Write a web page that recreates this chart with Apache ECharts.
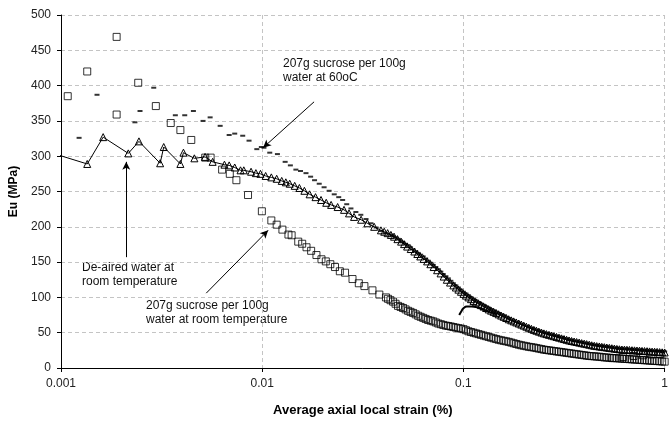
<!DOCTYPE html>
<html>
<head>
<meta charset="utf-8">
<script src="https://cdn.jsdelivr.net/npm/echarts@6/dist/echarts.min.js"></script>
<style>
  html, body { margin: 0; padding: 0; background: #fff; }
  #chart { width: 671px; height: 424px; }
</style>
</head>
<body>
<div id="chart"></div>
<script>
// x = average axial local strain (%), y = Eu (MPa)
const xTickLabels = ['0.001', '0.01', '0.1', '1'];

// 207g sucrose per 100g water at room temperature (open squares)
const sucroseRoom = [
  [0.00108, 385], [0.00135, 420], [0.00189, 469], [0.00189, 359], [0.00242, 404],
  [0.00296, 371], [0.00351, 347], [0.00392, 337], [0.00444, 323], [0.00521, 298],
  [0.00554, 298], [0.00632, 281], [0.0069, 275], [0.00744, 266], [0.0085, 245],
  [0.00996, 222], [0.0111, 209], [0.0118, 203], [0.0126, 196], [0.0135, 189],
  [0.0140, 188], [0.0151, 179], [0.0158, 176], [0.0166, 171], [0.0175, 166],
  [0.0186, 160], [0.0197, 154], [0.0207, 151], [0.0218, 147], [0.023, 143],
  [0.0243, 137], [0.0258, 135], [0.0281, 126], [0.0302, 120], [0.0322, 116],
  [0.0353, 110], [0.0382, 104],
  [0.0412, 100], [0.0422, 98], [0.0434, 96], [0.0447, 94], [0.046, 91], [0.0473, 88],
  [0.0487, 86.5], [0.0501, 85], [0.0516, 83], [0.0531, 81], [0.0546, 79.5], [0.0562, 78],
  [0.0579, 76], [0.0596, 74], [0.0613, 72.5], [0.0631, 71], [0.0649, 69.5], [0.0668, 68],
  [0.0688, 67], [0.0708, 66], [0.0729, 64.5], [0.075, 63], [0.0772, 62], [0.0794, 61],
  [0.0818, 60], [0.0841, 59.5], [0.0866, 58.8], [0.0891, 58], [0.0917, 57.2], [0.0944, 56.5],
  [0.0972, 55.8], [0.1, 55], [0.1029, 53.5], [0.1059, 52], [0.109, 51], [0.1122, 50],
  [0.1155, 49], [0.1189, 48], [0.1223, 47], [0.1259, 46], [0.1296, 45], [0.1334, 44],
  [0.1372, 43], [0.1413, 42], [0.1454, 41], [0.1496, 40], [0.154, 39.2], [0.1585, 38.5],
  [0.1631, 37.8], [0.1679, 37], [0.1728, 36], [0.1778, 35], [0.183, 34], [0.1884, 33],
  [0.1939, 32.2], [0.1995, 31.5], [0.2054, 30.8], [0.2113, 30], [0.2175, 29.5], [0.2239, 29],
  [0.2304, 28.2], [0.2371, 27.5], [0.2441, 26.8], [0.2512, 26], [0.2585, 25.5], [0.2661, 25],
  [0.2738, 24.5], [0.2818, 24], [0.2901, 23.5], [0.2985, 23], [0.3073, 22.5], [0.3162, 22],
  [0.3255, 21.5], [0.335, 21], [0.3447, 20.5], [0.3548, 20], [0.3652, 19.5], [0.3758, 19],
  [0.3868, 18.5], [0.3981, 18], [0.4097, 17.5], [0.4217, 17], [0.434, 16.8], [0.4467, 16.5],
  [0.4597, 16.2], [0.4732, 16], [0.487, 15.5], [0.5012, 15], [0.5158, 14.8], [0.5309, 14.5],
  [0.5464, 14.2], [0.5623, 14], [0.5788, 13.8], [0.5957, 13.5], [0.6131, 13.2], [0.631, 13],
  [0.6494, 12.8], [0.6683, 12.5], [0.6879, 12.2], [0.7079, 12], [0.7286, 11.8], [0.7499, 11.5],
  [0.7718, 11.2], [0.7943, 11], [0.8175, 10.8], [0.8414, 10.5], [0.866, 10.2], [0.8913, 10],
  [0.9173, 9.8], [0.9441, 9.5], [0.9716, 9.2], [1.0, 9],
  [0.55, 14], [0.62, 15.5], [0.7, 17], [0.78, 18], [0.86, 19], [0.95, 20]
];

// De-aired water at room temperature (open triangles, joined)
const deairedRoom = [
  [0.00089, 305], [0.00135, 289], [0.00162, 327], [0.00216, 304], [0.00244, 321],
  [0.00311, 290], [0.00324, 313], [0.00392, 289], [0.00406, 305], [0.0046, 297],
  [0.0052, 299], [0.00567, 292], [0.00649, 288], [0.00685, 287], [0.0073, 284],
  [0.0078, 280], [0.0081, 280], [0.0088, 278], [0.0093, 276], [0.0098, 275],
  [0.0104, 272], [0.0111, 270], [0.0118, 268], [0.0125, 265], [0.0131, 263],
  [0.0137, 261], [0.0145, 258], [0.0153, 255], [0.0162, 251], [0.0172, 246],
  [0.0184, 242], [0.0196, 238], [0.0208, 234], [0.022, 231], [0.0237, 228],
  [0.0255, 224], [0.027, 219], [0.0286, 214], [0.031, 210], [0.0333, 205],
  [0.036, 200], [0.0389, 195], [0.0404, 193], [0.042, 191], [0.0436, 188.5],
  [0.0452, 186], [0.047, 182.5], [0.049, 179], [0.0507, 175.5], [0.0525, 172],
  [0.0547, 168.5], [0.057, 165], [0.059, 161.5], [0.061, 158], [0.0634, 154.5],
  [0.066, 151], [0.0685, 147], [0.0711, 143], [0.074, 138.5], [0.077, 134],
  [0.0798, 129.5], [0.0827, 125], [0.0858, 121], [0.0891, 117], [0.0917, 114],
  [0.0944, 111], [0.0972, 108], [0.1, 105], [0.1029, 102.5], [0.1059, 100],
  [0.109, 97.5], [0.1122, 95], [0.1155, 93], [0.1189, 91], [0.1223, 89],
  [0.1259, 87], [0.1296, 85], [0.1334, 83], [0.1372, 81.2], [0.1413, 79.5],
  [0.1454, 77.8], [0.1496, 76], [0.154, 74.2], [0.1585, 72.5], [0.1631, 70.8],
  [0.1679, 69], [0.1728, 67.5], [0.1778, 66], [0.183, 64.5], [0.1884, 63],
  [0.1939, 61.5], [0.1995, 60], [0.2054, 58.5], [0.2113, 57], [0.2175, 55.5],
  [0.2239, 54], [0.2304, 52.8], [0.2371, 51.5], [0.2441, 50.2], [0.2512, 49],
  [0.2585, 48], [0.2661, 47], [0.2738, 46], [0.2818, 45], [0.2901, 44],
  [0.2985, 43], [0.3073, 42], [0.3162, 41], [0.3255, 40], [0.335, 39],
  [0.3447, 38.2], [0.3548, 37.5], [0.3652, 36.8], [0.3758, 36], [0.3868, 35.2],
  [0.3981, 34.5], [0.4097, 33.8], [0.4217, 33], [0.434, 32.2], [0.4467, 31.5],
  [0.4597, 31], [0.4732, 30.5], [0.487, 30], [0.5012, 29.5], [0.5158, 29],
  [0.5309, 28.5], [0.5464, 28], [0.5623, 27.5], [0.5788, 27], [0.5957, 26.5],
  [0.6131, 26.2], [0.631, 26], [0.6494, 25.8], [0.6683, 25.5], [0.6879, 25.2],
  [0.7079, 25], [0.7286, 24.8], [0.7499, 24.5], [0.7718, 24.2], [0.7943, 24],
  [0.8175, 23.8], [0.8414, 23.5], [0.866, 23.2], [0.8913, 23], [0.9173, 22.8],
  [0.9441, 22.5], [0.9716, 22.2], [1.0, 22]
];

// 207g sucrose per 100g water at 60oC (small dashes)
const sucrose60 = [
  [0.00123, 326], [0.00151, 387], [0.00233, 348], [0.00247, 364], [0.00289, 397],
  [0.0037, 358], [0.00412, 358], [0.00455, 364], [0.00508, 350], [0.00551, 355],
  [0.00618, 343], [0.00685, 330], [0.0073, 332], [0.0080, 329], [0.0086, 322],
  [0.0094, 310], [0.0099, 313], [0.0102, 312], [0.0109, 305], [0.0119, 303],
  [0.0130, 292], [0.0138, 287], [0.0147, 281], [0.0155, 279], [0.0165, 276],
  [0.0174, 271], [0.0182, 266], [0.0192, 261], [0.0203, 256], [0.0215, 251],
  [0.0228, 246], [0.0240, 242], [0.0251, 238], [0.0263, 232], [0.0276, 226],
  [0.0292, 221], [0.0309, 217], [0.0328, 211], [0.0347, 205], [0.0368, 199],
  [0.0389, 194], [0.0412, 191], [0.0434, 189], [0.0447, 187], [0.046, 185],
  [0.0473, 183], [0.0487, 180.5], [0.0501, 178], [0.0516, 176], [0.0531, 174],
  [0.0546, 171], [0.0562, 168], [0.0579, 165.5], [0.0596, 163], [0.0613, 160.5],
  [0.0631, 158], [0.0649, 155], [0.0668, 152], [0.0688, 149], [0.0708, 146],
  [0.0729, 143], [0.075, 140], [0.0772, 136.5], [0.0794, 133], [0.0818, 130],
  [0.0841, 127], [0.0866, 123.5], [0.0891, 120], [0.0917, 117], [0.0944, 114],
  [0.0972, 111], [0.1, 108], [0.1029, 105.5], [0.1059, 103], [0.109, 100.5],
  [0.1122, 98], [0.1155, 95.8], [0.1189, 93.5], [0.1223, 91.5], [0.1259, 89.5],
  [0.1296, 87.5], [0.1334, 85.5], [0.1372, 83.5], [0.1413, 81.5], [0.1454, 79.8],
  [0.1496, 78], [0.154, 76.2], [0.1585, 74.5], [0.1631, 72.5], [0.1679, 70.5],
  [0.1728, 68.8], [0.1778, 67], [0.183, 65.5], [0.1884, 64], [0.1939, 62.5],
  [0.1995, 61], [0.2054, 59.5], [0.2113, 58], [0.2175, 56.8], [0.2239, 55.5],
  [0.2304, 54.2], [0.2371, 53], [0.2441, 51.8], [0.2512, 50.5], [0.2585, 49.5],
  [0.2661, 48.5], [0.2738, 47.5], [0.2818, 46.5], [0.2901, 45.5], [0.2985, 44.5],
  [0.3073, 43.5], [0.3162, 42.5], [0.3255, 41.5], [0.335, 40.5], [0.3447, 39.8],
  [0.3548, 39], [0.3652, 38.2], [0.3758, 37.5], [0.3868, 36.8], [0.3981, 36],
  [0.4097, 35.2], [0.4217, 34.5], [0.434, 33.8], [0.4467, 33], [0.4597, 32.5],
  [0.4732, 32], [0.487, 31.5], [0.5012, 31], [0.5158, 30.5], [0.5309, 30],
  [0.5464, 29.5], [0.5623, 29], [0.5788, 28.5], [0.5957, 28], [0.6131, 27.8],
  [0.631, 27.5], [0.6494, 27.2], [0.6683, 27], [0.6879, 26.8], [0.7079, 26.5],
  [0.7286, 26.2], [0.7499, 26], [0.7718, 25.8], [0.7943, 25.5], [0.8175, 25.2],
  [0.8414, 25], [0.866, 24.8], [0.8913, 24.5], [0.9173, 24.2], [0.9441, 24],
  [0.9716, 23.8], [1.0, 23.5]
];

// reloading hook of the 60oC test near 0.1 %
const sucrose60Hook = [
  [0.0953, 75], [0.0975, 80], [0.1, 84.5], [0.104, 87], [0.11, 87],
  [0.1165, 86], [0.125, 83], [0.135, 79.5], [0.146, 76]
];

const FONT = 'Arial, "Liberation Sans", sans-serif';
const gridDash = { color: '#c4c4c4', type: [4, 3], width: 1 };

const chart = echarts.init(document.getElementById('chart'));

const arrow = (from, to) => [{ coord: from }, { coord: to }];

chart.setOption({
  animation: false,
  backgroundColor: '#fff',
  grid: { left: 61, right: 2, top: 15, bottom: 56 },
  xAxis: {
    type: 'log',
    logBase: 10,
    min: 0.001,
    max: 1,
    name: 'Average axial local strain (%)',
    nameLocation: 'middle',
    nameGap: 36,
    nameTextStyle: { color: '#000', fontSize: 13, fontWeight: 'bold', fontFamily: FONT },
    axisLine: { lineStyle: { color: '#000', width: 1 } },
    axisTick: { show: true, length: 4, lineStyle: { color: '#000' } },
    minorTick: { show: false },
    axisLabel: {
      color: '#222', fontSize: 12, fontFamily: FONT, margin: 10,
      formatter: (v, i) => xTickLabels[i]
    },
    splitLine: { show: true, lineStyle: gridDash }
  },
  yAxis: {
    type: 'value',
    min: 0,
    max: 500,
    interval: 50,
    name: 'Eu (MPa)',
    nameLocation: 'middle',
    nameGap: 40,
    nameTextStyle: { color: '#000', fontSize: 12, fontWeight: 'bold', fontFamily: FONT },
    axisLine: { show: true, lineStyle: { color: '#000', width: 1 } },
    axisTick: { show: true, length: 4, lineStyle: { color: '#000' } },
    axisLabel: { color: '#222', fontSize: 12, fontFamily: FONT, margin: 10 },
    splitLine: { show: true, lineStyle: gridDash }
  },
  series: [
    {
      name: '207g sucrose per 100g water at room temperature',
      type: 'scatter',
      data: sucroseRoom,
      symbol: 'rect',
      symbolSize: 7,
      // hollow markers: in the dense tail the outlines pile up into a dark band
      itemStyle: { color: 'transparent', borderColor: '#000', borderWidth: 1 },
      z: 2
    },
    {
      name: 'De-aired water at room temperature',
      type: 'line',
      data: deairedRoom,
      symbol: 'triangle',
      symbolSize: 7,
      showAllSymbol: true,
      lineStyle: { color: '#000', width: 1 },
      itemStyle: { color: 'transparent', borderColor: '#000', borderWidth: 1 },
      z: 3
    },
    {
      name: '207g sucrose per 100g water at 60oC',
      type: 'scatter',
      data: sucrose60,
      symbol: 'rect',
      symbolSize: [5, 2],
      itemStyle: { color: '#000' },
      z: 4
    },
    {
      name: '207g sucrose per 100g water at 60oC (hook)',
      type: 'line',
      data: sucrose60Hook,
      showSymbol: false,
      smooth: true,
      lineStyle: { color: '#000', width: 2 },
      z: 4,
      markLine: {
        silent: true,
        symbol: ['none', 'arrow'],
        symbolSize: [6, 8],
        label: { show: false },
        lineStyle: { color: '#000', width: 1, type: 'solid' },
        data: [
          arrow([0.0181, 377], [0.0101, 312]),
          arrow([0.00211, 157], [0.00211, 292]),
          arrow([0.00527, 106], [0.0107, 195])
        ]
      }
    }
  ],
  graphic: [
    {
      type: 'text', left: 283, top: 57,
      style: { text: '207g sucrose per 100g\nwater at 60oC', fill: '#111', font: '12px ' + FONT, lineHeight: 13.5 }
    },
    {
      type: 'text', left: 82, top: 261,
      style: { text: 'De-aired water at\nroom temperature', fill: '#111', font: '12px ' + FONT, lineHeight: 13.5 }
    },
    {
      type: 'text', left: 146, top: 299,
      style: { text: '207g sucrose per 100g\nwater at room temperature', fill: '#111', font: '12px ' + FONT, lineHeight: 13.5 }
    }
  ]
});
</script>
</body>
</html>
